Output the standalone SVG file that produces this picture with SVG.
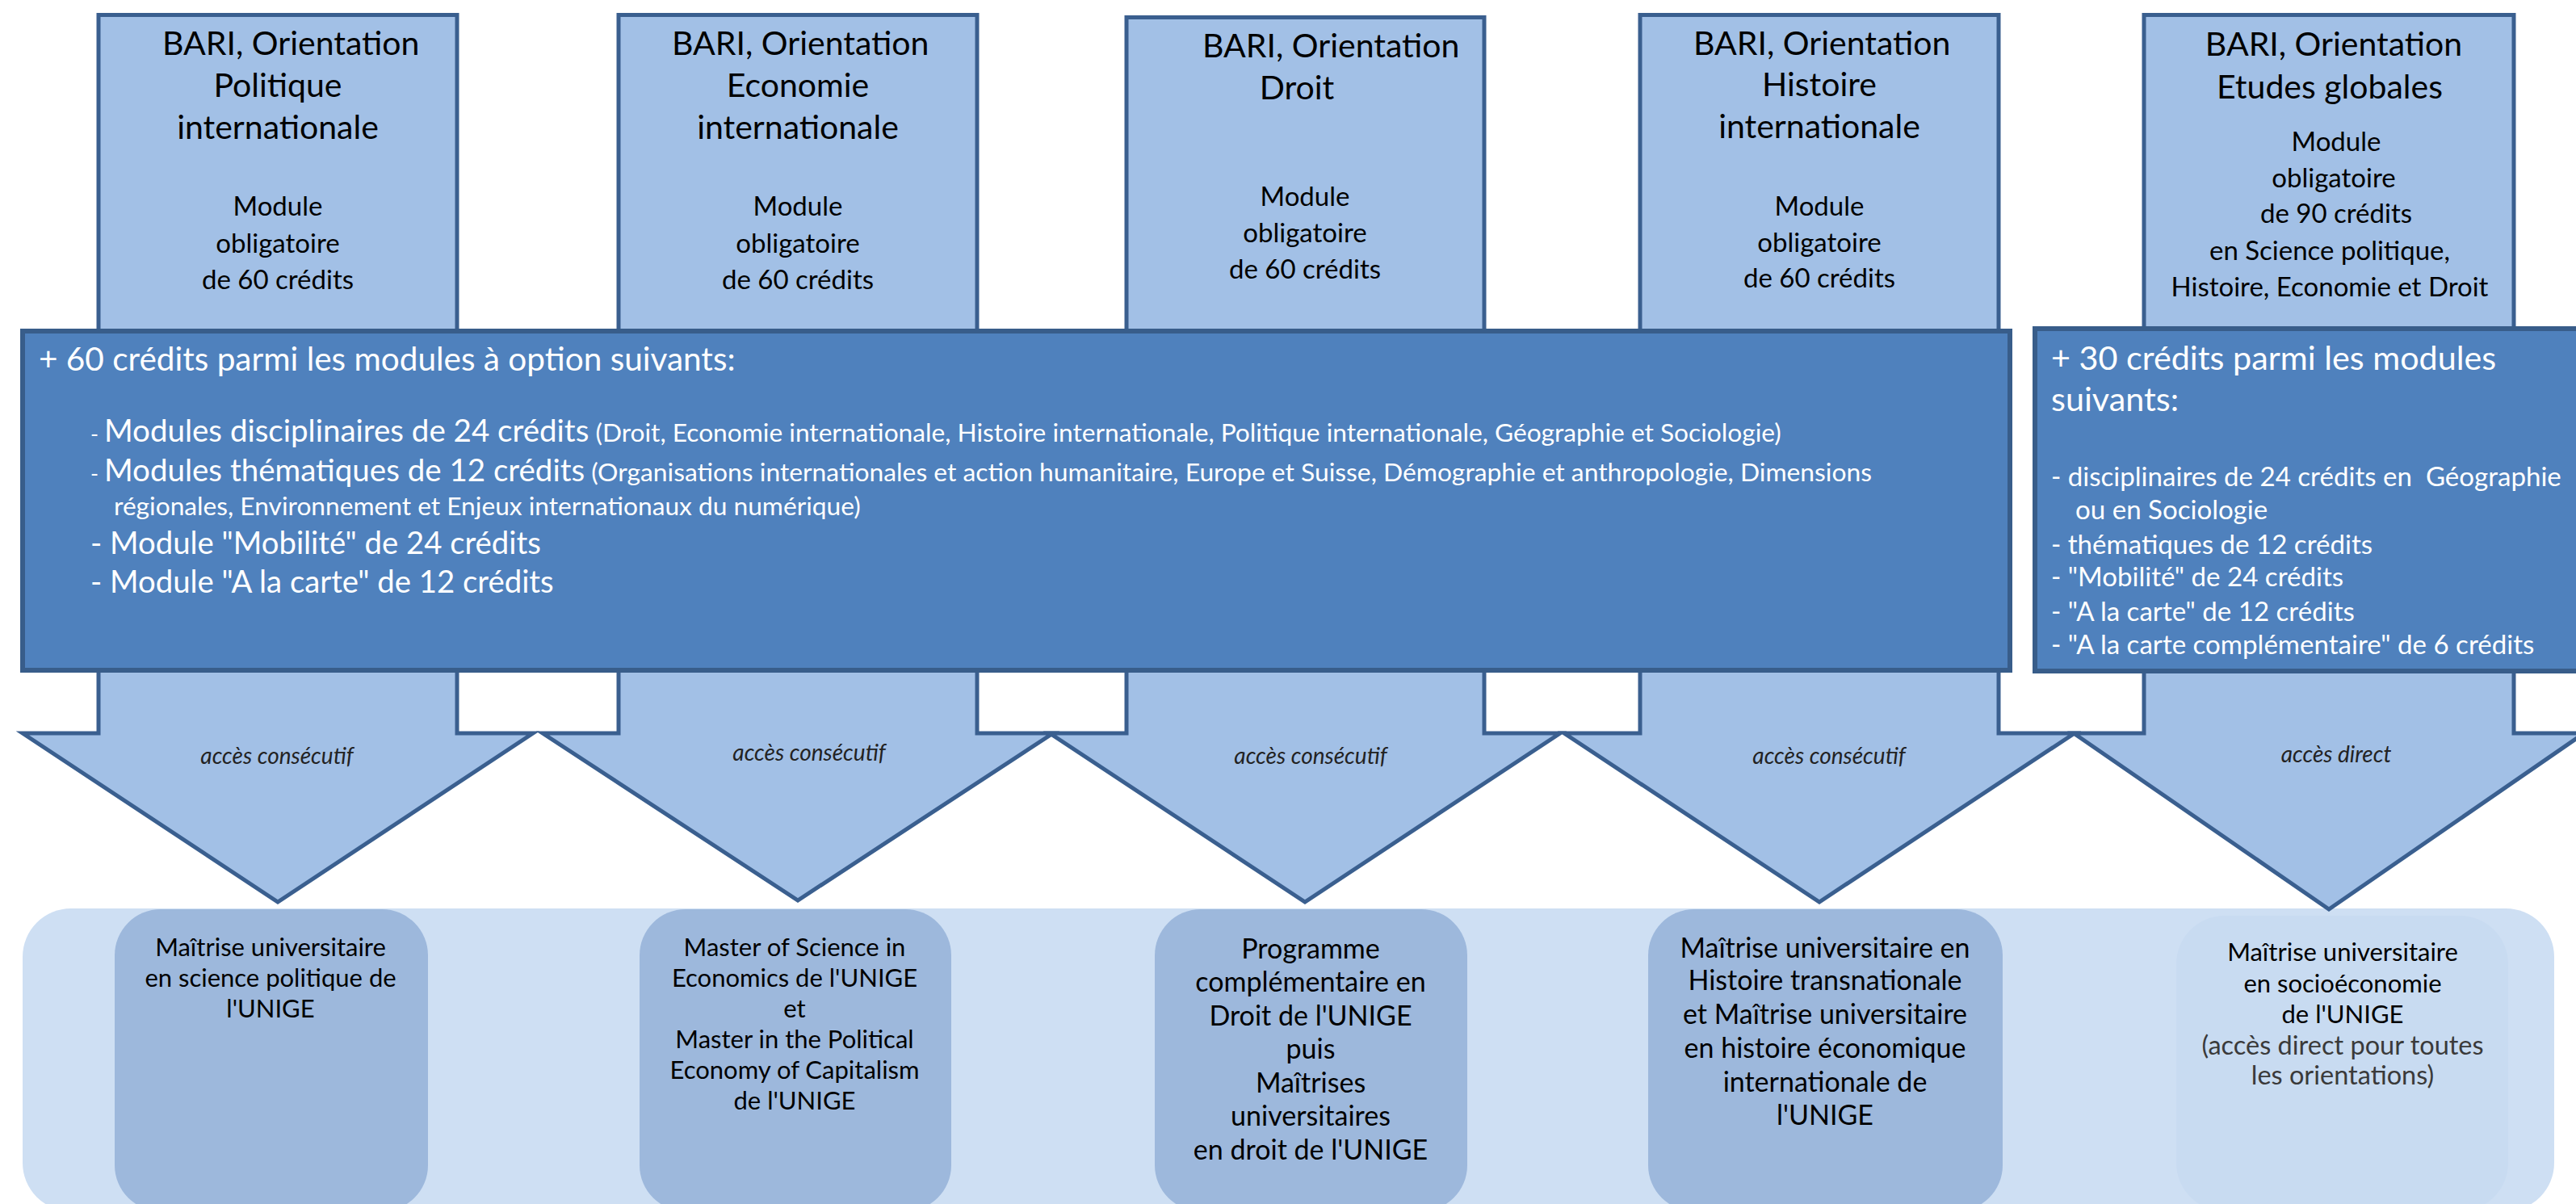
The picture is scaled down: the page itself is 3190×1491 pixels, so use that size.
<svg xmlns="http://www.w3.org/2000/svg" width="3190" height="1491" viewBox="0 0 3190 1491">
<defs>
<style>
.t{font-family:Lato,"Open Sans","Liberation Sans",sans-serif;}
.title{font-size:41px;fill:#000;text-anchor:middle;}
.mod{font-size:33px;fill:#000;text-anchor:middle;}
.top{fill:#a2c0e6;stroke:#3a5f8f;stroke-width:5;}
.big{fill:#4f81bd;stroke:#385d8a;stroke-width:6;}
.arrow{fill:#a2c0e6;stroke:#3a5f8f;stroke-width:5;stroke-linejoin:miter;}
.w{fill:#fff;}
.lbl{font-size:28px;font-style:italic;fill:#222;text-anchor:middle;}
.res{fill:#9db8dc;}
.rt{font-size:31px;fill:#000;text-anchor:middle;}
.rt2{font-size:34px;fill:#000;text-anchor:middle;}
</style>
</defs>
<rect width="3190" height="1491" fill="#fff"/>
<g id="panel">
<rect x="28" y="1125" width="3135" height="375" rx="60" fill="#cedff3"/>
</g>
<g id="connectors">
<polygon class="arrow" points="122,820 566,820 566,908 660,908 344,1117 28,908 122,908"/>
<polygon class="arrow" points="766,820 1210,820 1210,908 1304,908 988,1115 672,908 766,908"/>
<polygon class="arrow" points="1395,820 1838,820 1838,908 1932,908 1616,1117 1300,908 1395,908"/>
<polygon class="arrow" points="2031,820 2475,820 2475,908 2569,908 2253,1117 1937,908 2031,908"/>
<polygon class="arrow" points="2655,820 3113,820 3113,908 3200,908 2884,1126 2568,908 2655,908"/>
<text class="t lbl" x="343" y="946">accès consécutif</text>
<text class="t lbl" x="1002" y="942">accès consécutif</text>
<text class="t lbl" x="1623" y="946">accès consécutif</text>
<text class="t lbl" x="2265" y="946">accès consécutif</text>
<text class="t lbl" x="2893" y="944">accès direct</text>
</g>
<g id="bari-politique">
<rect class="top" x="122" y="18.5" width="444" height="400"/>
<text class="t title" x="201" y="68" style="text-anchor:start">BARI, Orientation</text>
<text class="t title" x="344" y="120">Politique</text>
<text class="t title" x="344" y="172">internationale</text>
<text class="t mod" x="344" y="267">Module</text>
<text class="t mod" x="344" y="313">obligatoire</text>
<text class="t mod" x="344" y="358">de 60 crédits</text>
</g>
<g id="bari-economie">
<rect class="top" x="766" y="18.5" width="444" height="400"/>
<text class="t title" x="832" y="68" style="text-anchor:start">BARI, Orientation</text>
<text class="t title" x="988" y="120">Economie</text>
<text class="t title" x="988" y="172">internationale</text>
<text class="t mod" x="988" y="267">Module</text>
<text class="t mod" x="988" y="313">obligatoire</text>
<text class="t mod" x="988" y="358">de 60 crédits</text>
</g>
<g id="bari-droit">
<rect class="top" x="1395" y="21.5" width="443" height="400"/>
<text class="t title" x="1489" y="71" style="text-anchor:start">BARI, Orientation</text>
<text class="t title" x="1606" y="123">Droit</text>
<text class="t mod" x="1616" y="255">Module</text>
<text class="t mod" x="1616" y="300">obligatoire</text>
<text class="t mod" x="1616" y="345">de 60 crédits</text>
</g>
<g id="bari-histoire">
<rect class="top" x="2031" y="18.5" width="444" height="400"/>
<text class="t title" x="2097" y="68" style="text-anchor:start">BARI, Orientation</text>
<text class="t title" x="2253" y="119">Histoire</text>
<text class="t title" x="2253" y="171">internationale</text>
<text class="t mod" x="2253" y="267">Module</text>
<text class="t mod" x="2253" y="312">obligatoire</text>
<text class="t mod" x="2253" y="356">de 60 crédits</text>
</g>
<g id="bari-etudes-globales">
<rect class="top" x="2655" y="18.5" width="458" height="400"/>
<text class="t title" x="2890" y="69">BARI, Orientation</text>
<text class="t title" x="2885" y="122">Etudes globales</text>
<text class="t mod" x="2893" y="187">Module</text>
<text class="t mod" x="2890" y="232">obligatoire</text>
<text class="t mod" x="2893" y="276">de 90 crédits</text>
<text class="t mod" x="2885" y="322">en Science politique,</text>
<text class="t mod" x="2885" y="367">Histoire, Economie et Droit</text>
</g>
<g id="options-60">
<rect class="big" x="28" y="410" width="2461" height="420"/>
<text class="t w" x="48" y="459" font-size="40.5">+ 60 crédits parmi les modules à option suivants:</text>
<text class="t w" x="112" y="547"><tspan font-size="27">- </tspan><tspan font-size="38.5">Modules disciplinaires de 24 crédits</tspan><tspan font-size="31.7"> (Droit, Economie internationale, Histoire internationale, Politique internationale, Géographie et Sociologie)</tspan></text>
<text class="t w" x="112" y="596"><tspan font-size="27">- </tspan><tspan font-size="38.5">Modules thématiques de 12 crédits</tspan><tspan font-size="31.8"> (Organisations internationales et action humanitaire, Europe et Suisse, Démographie et anthropologie, Dimensions</tspan></text>
<text class="t w" x="141" y="638" font-size="31.7">régionales, Environnement et Enjeux internationaux du numérique)</text>
<text class="t w" x="112" y="686" font-size="38.3">- Module "Mobilité" de 24 crédits</text>
<text class="t w" x="112" y="734" font-size="38.3">- Module "A la carte" de 12 crédits</text>
</g>
<g id="options-30">
<rect class="big" x="2520" y="407" width="700" height="424"/>
<text class="t w" x="2540" y="458" font-size="41.3">+ 30 crédits parmi les modules</text>
<text class="t w" x="2540" y="509" font-size="41.3">suivants:</text>
<text class="t w" x="2540" y="602" font-size="33.1">- disciplinaires de 24 crédits en &#160;Géographie</text>
<text class="t w" x="2570" y="643" font-size="33.1">ou en Sociologie</text>
<text class="t w" x="2540" y="686" font-size="33.1">- thématiques de 12 crédits</text>
<text class="t w" x="2540" y="726" font-size="33.1">- "Mobilité" de 24 crédits</text>
<text class="t w" x="2540" y="769" font-size="33.1">- "A la carte" de 12 crédits</text>
<text class="t w" x="2540" y="810" font-size="33.1">- "A la carte complémentaire" de 6 crédits</text>
</g>
<g id="master-science-politique">
<rect class="res" x="142" y="1126" width="388" height="374" rx="57"/>
<text class="t rt" x="335" y="1184">Maîtrise universitaire</text>
<text class="t rt" x="335" y="1222">en science politique de</text>
<text class="t rt" x="335" y="1260">l'UNIGE</text>
</g>
<g id="master-economics">
<rect class="res" x="792" y="1126" width="386" height="374" rx="57"/>
<text class="t rt" x="984" y="1184">Master of Science in</text>
<text class="t rt" x="984" y="1222">Economics de l'UNIGE</text>
<text class="t rt" x="984" y="1260">et</text>
<text class="t rt" x="984" y="1298">Master in the Political</text>
<text class="t rt" x="984" y="1336">Economy of Capitalism</text>
<text class="t rt" x="984" y="1374">de l'UNIGE</text>
</g>
<g id="master-droit">
<rect class="res" x="1430" y="1126" width="387" height="374" rx="57"/>
<text class="t rt2" x="1623" y="1187">Programme</text>
<text class="t rt2" x="1623" y="1228">complémentaire en</text>
<text class="t rt2" x="1623" y="1270">Droit de l'UNIGE</text>
<text class="t rt2" x="1623" y="1311">puis</text>
<text class="t rt2" x="1623" y="1353">Maîtrises</text>
<text class="t rt2" x="1623" y="1394">universitaires</text>
<text class="t rt2" x="1623" y="1436">en droit de l'UNIGE</text>
</g>
<g id="master-histoire">
<rect class="res" x="2041" y="1126" width="439" height="374" rx="57"/>
<text class="t rt2" x="2260" y="1186">Maîtrise universitaire en</text>
<text class="t rt2" x="2260" y="1226">Histoire transnationale</text>
<text class="t rt2" x="2260" y="1268">et Maîtrise universitaire</text>
<text class="t rt2" x="2260" y="1310">en histoire économique</text>
<text class="t rt2" x="2260" y="1352">internationale de</text>
<text class="t rt2" x="2260" y="1393">l'UNIGE</text>
</g>
<g id="master-socioeconomie">
<rect x="2695" y="1134" width="411" height="366" rx="60" fill="#c8dbf1"/>
<text class="t rt" x="2901" y="1190">Maîtrise universitaire</text>
<text class="t rt" x="2901" y="1229">en socioéconomie</text>
<text class="t rt" x="2901" y="1267">de l'UNIGE</text>
<text class="t rt" x="2901" y="1306" style="fill:#3a3a3a;font-size:32.5px">(accès direct pour toutes</text>
<text class="t rt" x="2901" y="1343" style="fill:#3a3a3a;font-size:32.5px">les orientations)</text>
</g>
</svg>
